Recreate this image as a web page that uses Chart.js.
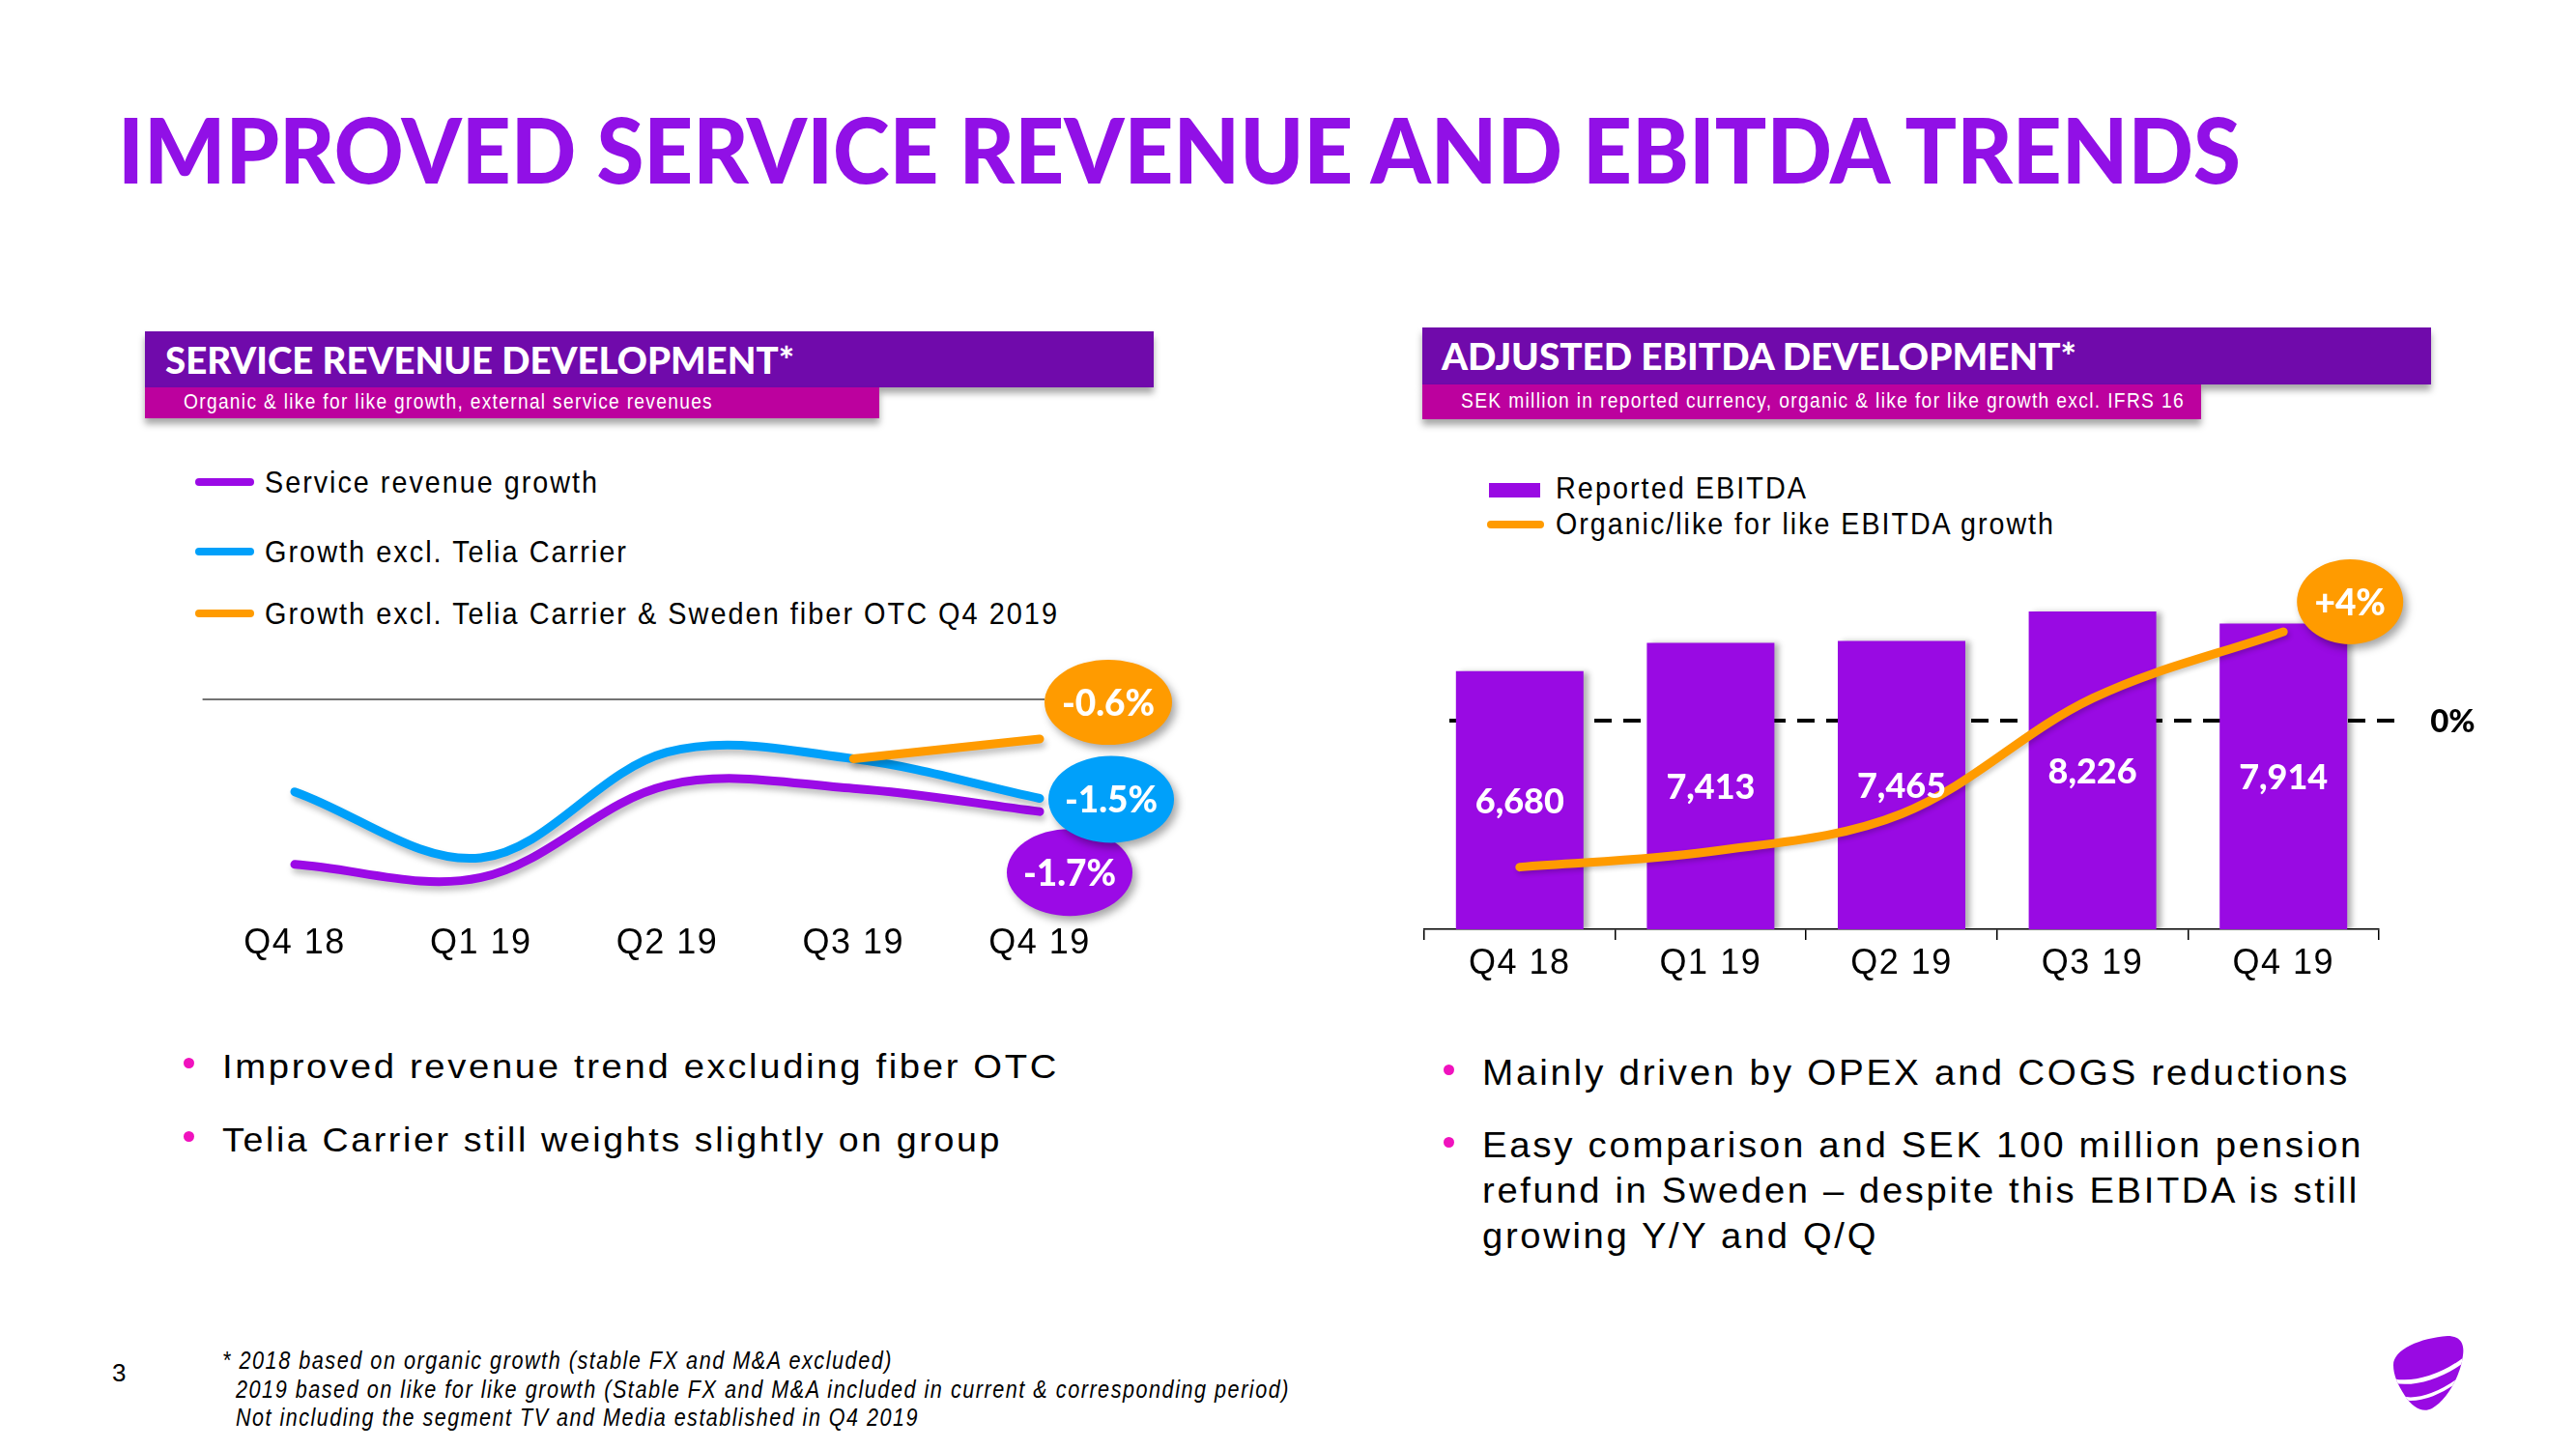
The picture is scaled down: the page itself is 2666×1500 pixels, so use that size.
<!DOCTYPE html>
<html>
<head>
<meta charset="utf-8">
<title>Improved service revenue and EBITDA trends</title>
<script src="https://cdn.jsdelivr.net/npm/chart.js@4.4.1/dist/chart.umd.min.js"></script>
<style>
html, body { margin: 0; padding: 0; background: #fff; }
#slide { position: relative; width: 2666px; height: 1500px; overflow: hidden; font-family: "Liberation Sans", Arial, sans-serif; color: #000; }
.t { position: absolute; white-space: nowrap; line-height: 1; transform-origin: 0 0; letter-spacing: 0.07em; }
.head { font-family: Lato, "Open Sans", sans-serif; font-weight: 900; color: #fff; letter-spacing: 0; }
.bar1 { position: absolute; background: #700aab; box-shadow: 0 6px 7px rgba(0,0,0,0.35); }
.bar2 { position: absolute; background: #bc019e; box-shadow: 0 6px 7px rgba(0,0,0,0.35); }
.sw { position: absolute; border-radius: 5px; }
.dot { position: absolute; width: 11px; height: 11px; border-radius: 50%; background: #f012be; }
canvas { position: absolute; }
</style>
</head>
<body>
<div id="slide">
  <div class="t head" style="font-size:93.5px;color:#9110e6" data-x="122" data-b="190" data-w="2197">IMPROVED SERVICE REVENUE AND EBITDA TRENDS</div>

  <!-- left header -->
  <div class="bar1" style="left:150px;top:343px;width:1044px;height:58px"></div>
  <div class="bar2" style="left:150px;top:401px;width:760px;height:32px"></div>
  <div class="t head" style="font-size:38px" data-x="171" data-b="387" data-w="651">SERVICE REVENUE DEVELOPMENT*</div>
  <div class="t" style="font-size:22px;color:#fff" data-x="190" data-b="423" data-w="548">Organic &amp; like for like growth, external service revenues</div>

  <!-- right header -->
  <div class="bar1" style="left:1472px;top:339px;width:1044px;height:59px"></div>
  <div class="bar2" style="left:1472px;top:398px;width:806px;height:36px"></div>
  <div class="t head" style="font-size:38px" data-x="1492" data-b="383" data-w="657">ADJUSTED EBITDA DEVELOPMENT*</div>
  <div class="t" style="font-size:22px;color:#fff" data-x="1512" data-b="422" data-w="749">SEK million in reported currency, organic &amp; like for like growth excl. IFRS 16</div>

  <!-- left legend -->
  <div class="sw" style="left:202px;top:495px;width:61px;height:8px;background:#9b0ae6"></div>
  <div class="t" style="font-size:32px" data-x="274" data-b="510" data-w="346">Service revenue growth</div>
  <div class="sw" style="left:202px;top:567px;width:61px;height:8px;background:#00a0fa"></div>
  <div class="t" style="font-size:32px" data-x="274" data-b="582" data-w="376">Growth excl. Telia Carrier</div>
  <div class="sw" style="left:202px;top:631px;width:61px;height:8px;background:#ff9b00"></div>
  <div class="t" style="font-size:32px" data-x="274" data-b="646" data-w="822">Growth excl. Telia Carrier &amp; Sweden fiber OTC Q4 2019</div>

  <!-- right legend -->
  <div class="sw" style="left:1541px;top:500px;width:53px;height:15px;border-radius:0;background:#990ae3"></div>
  <div class="t" style="font-size:32px" data-x="1610" data-b="516" data-w="261">Reported EBITDA</div>
  <div class="sw" style="left:1539px;top:539px;width:59px;height:8px;background:#ff9b00"></div>
  <div class="t" style="font-size:32px" data-x="1610" data-b="553" data-w="517">Organic/like for like EBITDA growth</div>

  <canvas id="revChart" width="1100" height="400" style="left:150px;top:640px"></canvas>
  <canvas id="ebitdaChart" width="1200" height="600" style="left:1400px;top:480px"></canvas>

  <!-- bullets -->
  <div class="dot" style="left:190px;top:1095px"></div>
  <div class="t" style="font-size:35px" data-x="230" data-b="1116" data-w="866">Improved revenue trend excluding fiber OTC</div>
  <div class="dot" style="left:190px;top:1171px"></div>
  <div class="t" style="font-size:35px" data-x="230" data-b="1192" data-w="807">Telia Carrier still weights slightly on group</div>

  <div class="dot" style="left:1494px;top:1102px"></div>
  <div class="t" style="font-size:36px" data-x="1534" data-b="1123" data-w="898">Mainly driven by OPEX and COGS reductions</div>
  <div class="dot" style="left:1494px;top:1177px"></div>
  <div class="t" style="font-size:36px" data-x="1534" data-b="1198" data-w="912">Easy comparison and SEK 100 million pension</div>
  <div class="t" style="font-size:36px" data-x="1534" data-b="1245" data-w="908">refund in Sweden – despite this EBITDA is still</div>
  <div class="t" style="font-size:36px" data-x="1534" data-b="1292" data-w="410">growing Y/Y and Q/Q</div>

  <!-- footer -->
  <div class="t" style="font-size:26px" data-x="116" data-b="1430">3</div>
  <div class="t" style="font-size:25px;font-style:italic" data-x="230" data-b="1417" data-w="694">* 2018 based on organic growth (stable FX and M&amp;A excluded)</div>
  <div class="t" style="font-size:25px;font-style:italic" data-x="244" data-b="1447" data-w="1091">2019 based on like for like growth (Stable FX and M&amp;A included in current &amp; corresponding period)</div>
  <div class="t" style="font-size:25px;font-style:italic" data-x="244" data-b="1476" data-w="707">Not including the segment TV and Media established in Q4 2019</div>

  <svg style="position:absolute;left:2475px;top:1383px" width="75" height="78" viewBox="0 0 75 78">
    <defs><clipPath id="pebble"><path d="M2 30 C2 14 30 2 58 0 C70 0 76 6 74 20 C72 40 58 66 42 75 C32 80 22 74 14 62 C6 50 2 40 2 30 Z"/></clipPath></defs>
    <g clip-path="url(#pebble)">
      <rect x="0" y="0" width="75" height="78" fill="#990ae3"/>
      <path d="M0 46 C25 52 55 40 76 24" stroke="#fff" stroke-width="4.5" fill="none"/>
      <path d="M10 64 C30 69 55 57 74 42" stroke="#fff" stroke-width="3.5" fill="none"/>
    </g>
  </svg>
</div>

<script>
// Data
const quarters = ['Q4 18', 'Q1 19', 'Q2 19', 'Q3 19', 'Q4 19'];
const serviceRevenueGrowth = [-2.5, -2.7, -1.3, -1.35, -1.7];
const growthExclCarrier = [-1.4, -2.4, -0.8, -0.9, -1.5];
const growthExclCarrierFiber = [null, null, null, -0.9, -0.6];
const reportedEbitda = [6680, 7413, 7465, 8226, 7914];
const ebitdaGrowth = [-6.6, -5.9, -4.2, 1.0, 4.0];

// Colors
const purple = '#9b0ae6';
const barPurple = '#990ae3';
const blue = '#00a0fa';
const orange = '#ff9b00';
const headFont = 'Lato, "Open Sans", sans-serif';

// place slide text on its baseline and squeeze it to the measured width
document.querySelectorAll('.t').forEach(el => {
    const m = document.createElement('span');
    m.style.cssText = 'display:inline-block;width:0;height:0';
    el.appendChild(m);
    el.style.left = el.dataset.x + 'px';
    el.style.top = '0px';
    el.style.top = (el.dataset.b - m.offsetTop) + 'px';
    if (el.dataset.w) {
        const w = el.getBoundingClientRect().width;
        el.style.transform = `scaleX(${el.dataset.w / w})`;
    }
});

const fmtPct = v => (v > 0 ? '+' : '') + (Number.isInteger(v) ? v : v.toFixed(1)) + '%';

Chart.defaults.font.family = '"Liberation Sans", Arial, sans-serif';
Chart.defaults.color = '#000';
Chart.defaults.animation = false;

// spaced-out axis labels like the slide
const spacing = {
    id: 'spacing',
    beforeDraw(chart) { chart.ctx.letterSpacing = '1.5px'; },
    beforeDatasetsDraw(chart) { chart.ctx.letterSpacing = '0px'; }
};

const shadows = {
    id: 'shadows',
    beforeDatasetDraw(chart, args) {
        const s = chart.data.datasets[args.index].shadow;
        if (!s) return;
        const ctx = chart.ctx;
        ctx.save();
        ctx.shadowColor = s.color;
        ctx.shadowBlur = s.blur;
        ctx.shadowOffsetX = s.x;
        ctx.shadowOffsetY = s.y;
    },
    afterDatasetDraw(chart, args) {
        if (chart.data.datasets[args.index].shadow) chart.ctx.restore();
    }
};

const zeroLine = {
    id: 'zeroLine',
    beforeDatasetsDraw(chart, args, opts) {
        const { ctx, chartArea, scales } = chart;
        const y = scales[opts.axis].getPixelForValue(0);
        const xEnd = scales.x.getPixelForValue(quarters.length - 1) + opts.extend;
        ctx.save();
        ctx.strokeStyle = opts.color;
        ctx.lineWidth = opts.width;
        ctx.setLineDash(opts.dash || []);
        ctx.beginPath();
        ctx.moveTo(chartArea.left + opts.start, y);
        ctx.lineTo(xEnd, y);
        ctx.stroke();
        ctx.restore();
        if (opts.label) {
            ctx.save();
            ctx.fillStyle = '#000';
            ctx.font = `900 33px ${headFont}`;
            ctx.textBaseline = 'middle';
            ctx.fillText(opts.label, xEnd + 30, y + 1);
            ctx.restore();
        }
    }
};

const bubbles = {
    id: 'bubbles',
    afterDatasetsDraw(chart, args, opts) {
        const ctx = chart.ctx;
        opts.items.forEach(b => {
            const data = chart.data.datasets[b.dataset].data;
            const i = data.length - 1;
            const pt = chart.getDatasetMeta(b.dataset).data[i];
            const cx = pt.x + b.dx, cy = pt.y + b.dy;
            ctx.save();
            ctx.shadowColor = 'rgba(0,0,0,0.35)';
            ctx.shadowBlur = 8;
            ctx.shadowOffsetX = 4;
            ctx.shadowOffsetY = 5;
            ctx.fillStyle = b.color;
            ctx.beginPath();
            ctx.ellipse(cx, cy, b.rx, b.ry, 0, 0, Math.PI * 2);
            ctx.fill();
            ctx.restore();
            ctx.save();
            ctx.fillStyle = '#fff';
            ctx.font = `900 37px ${headFont}`;
            ctx.textAlign = 'center';
            ctx.textBaseline = 'middle';
            ctx.fillText(fmtPct(data[i]), cx, cy + 2);
            ctx.restore();
        });
    }
};

const barLabels = {
    id: 'barLabels',
    afterDatasetsDraw(chart) {
        const ctx = chart.ctx;
        const meta = chart.getDatasetMeta(1);
        ctx.save();
        ctx.fillStyle = '#fff';
        ctx.font = `900 36px ${headFont}`;
        ctx.textAlign = 'center';
        ctx.textBaseline = 'middle';
        meta.data.forEach((bar, i) => {
            ctx.fillText(reportedEbitda[i].toLocaleString('en-US'), bar.x, (bar.y + bar.base) / 2 + 2);
        });
        ctx.restore();
    }
};

const lineShadow = { color: 'rgba(0,0,0,0.25)', blur: 6, x: 2, y: 5 };

// Service revenue chart
new Chart(document.getElementById('revChart'), {
    type: 'line',
    data: {
        labels: quarters,
        datasets: [
            { label: 'Growth excl. Telia Carrier & Sweden fiber OTC Q4 2019', data: growthExclCarrierFiber, borderColor: orange, order: 0, shadow: lineShadow },
            { label: 'Growth excl. Telia Carrier', data: growthExclCarrier, borderColor: blue, order: 1, shadow: lineShadow },
            { label: 'Service revenue growth', data: serviceRevenueGrowth, borderColor: purple, order: 2, shadow: lineShadow }
        ]
    },
    options: {
        responsive: false,
        layout: { padding: { left: 58.6, right: 77.6, top: 36.2, bottom: 37.4 } },
        elements: {
            line: { borderWidth: 9, tension: 0.35, borderCapStyle: 'round', fill: false },
            point: { radius: 0, hoverRadius: 0 }
        },
        plugins: {
            legend: { display: false },
            tooltip: { enabled: false },
            zeroLine: { axis: 'y', color: '#444', width: 1.5, start: 1, extend: 5 },
            bubbles: {
                items: [
                    { dataset: 2, color: purple, dx: 31, dy: 63, rx: 65, ry: 45 },
                    { dataset: 1, color: blue, dx: 74, dy: 1, rx: 65, ry: 45 },
                    { dataset: 0, color: orange, dx: 71, dy: -38, rx: 66, ry: 44 }
                ]
            }
        },
        scales: {
            x: {
                offset: true,
                grid: { display: false, drawTicks: false },
                border: { display: false },
                ticks: { font: { size: 36 }, padding: 13 },
                afterFit: s => { s.height = 60; }
            },
            y: { display: false, min: -3.2, max: 0.7 }
        }
    },
    plugins: [spacing, shadows, zeroLine, bubbles]
});

// EBITDA chart
new Chart(document.getElementById('ebitdaChart'), {
    type: 'bar',
    data: {
        labels: quarters,
        datasets: [
            {
                type: 'line', label: 'Organic/like for like EBITDA growth', data: ebitdaGrowth, yAxisID: 'y1',
                borderColor: orange, borderWidth: 9, tension: 0.35, borderCapStyle: 'round',
                pointRadius: 0, order: 0, shadow: { color: 'rgba(0,0,0,0.2)', blur: 5, x: 2, y: 3 }
            },
            {
                label: 'Reported EBITDA', data: reportedEbitda, backgroundColor: barPurple,
                categoryPercentage: 1, barPercentage: 0.668, order: 1,
                shadow: { color: 'rgba(0,0,0,0.3)', blur: 6, x: 5, y: 1 }
            }
        ]
    },
    options: {
        responsive: false,
        layout: { padding: { left: 74, right: 138, top: 82, bottom: 48 } },
        plugins: {
            legend: { display: false },
            tooltip: { enabled: false },
            zeroLine: { axis: 'y1', color: '#000', width: 4, dash: [18, 12], start: 26, extend: 122, label: '0%' },
            bubbles: { items: [{ dataset: 0, color: orange, dx: 69, dy: -31, rx: 55, ry: 44 }] }
        },
        scales: {
            x: {
                grid: { display: true, drawOnChartArea: false, drawTicks: true, tickLength: 11, color: '#000', lineWidth: 1.5 },
                border: { display: true, color: '#000', width: 1.5 },
                ticks: { font: { size: 36 }, padding: 3 },
                afterFit: s => { s.height = 70; }
            },
            y: { display: false, min: 0, max: 10000 },
            y1: { display: false, min: -9.4, max: 8 }
        }
    },
    plugins: [spacing, shadows, zeroLine, barLabels, bubbles]
});
</script>
</body>
</html>
